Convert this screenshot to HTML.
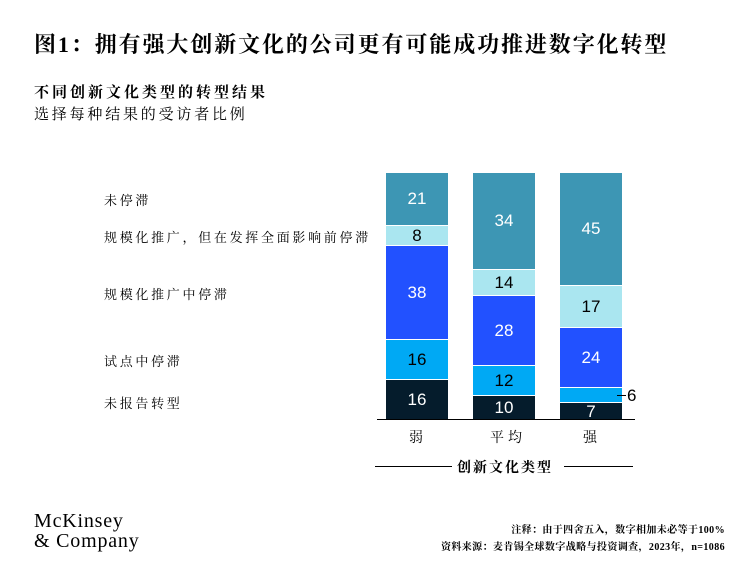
<!DOCTYPE html><html><head><meta charset="utf-8"><style>
body{margin:0;width:750px;height:573px;background:#fff;position:relative;overflow:hidden;font-family:"Liberation Serif","Noto Serif CJK SC",serif;color:#000}
.a{position:absolute;white-space:nowrap}
.l{font-size:13px;letter-spacing:2.7px}
.s{position:absolute;box-sizing:border-box;border-bottom:1px solid #fff;display:flex;align-items:center;justify-content:center;font-family:"Liberation Sans",sans-serif;font-size:17px}
.w{color:#fff}
</style></head><body>
<div class="a" style="left:34px;top:28px;font-size:22px;font-weight:bold;letter-spacing:1.9px">图1：拥有强大创新文化的公司更有可能成功推进数字化转型</div>
<div class="a" style="left:34px;top:81px;font-size:15px;font-weight:bold;letter-spacing:3px">不同创新文化类型的转型结果</div>
<div class="a" style="left:34px;top:103px;font-size:15px;letter-spacing:2.8px">选择每种结果的受访者比例</div>
<div class="a l" style="left:104px;top:190px">未停滞</div>
<div class="a l" style="left:104px;top:227px">规模化推广，但在发挥全面影响前停滞</div>
<div class="a l" style="left:104px;top:284px">规模化推广中停滞</div>
<div class="a l" style="left:104px;top:351px">试点中停滞</div>
<div class="a l" style="left:104px;top:393px">未报告转型</div>

<div class="s w" style="left:386px;top:173px;width:62px;height:53px;background:#3d96b4">21</div>
<div class="s" style="left:386px;top:226px;width:62px;height:20px;background:#aae6f0">8</div>
<div class="s w" style="left:386px;top:246px;width:62px;height:94px;background:#2251ff">38</div>
<div class="s" style="left:386px;top:340px;width:62px;height:40px;background:#00a9f4">16</div>
<div class="s w" style="left:386px;top:380px;width:62px;height:40px;background:#051c2c;border:0">16</div>

<div class="s w" style="left:473px;top:173px;width:62px;height:97px;background:#3d96b4">34</div>
<div class="s" style="left:473px;top:270px;width:62px;height:26px;background:#aae6f0">14</div>
<div class="s w" style="left:473px;top:296px;width:62px;height:70px;background:#2251ff">28</div>
<div class="s" style="left:473px;top:366px;width:62px;height:30px;background:#00a9f4">12</div>
<div class="s w" style="left:473px;top:396px;width:62px;height:24px;background:#051c2c;border:0">10</div>

<div class="s w" style="left:560px;top:173px;width:62px;height:113px;background:#3d96b4">45</div>
<div class="s" style="left:560px;top:286px;width:62px;height:42px;background:#aae6f0">17</div>
<div class="s w" style="left:560px;top:328px;width:62px;height:60px;background:#2251ff">24</div>
<div class="s" style="left:560px;top:388px;width:62px;height:15px;background:#00a9f4"></div>
<div class="s w" style="left:560px;top:403px;width:62px;height:17px;background:#051c2c;border:0">7</div>
<div class="a" style="left:617px;top:395px;width:9px;border-top:1px solid #000"></div>
<div class="a" style="left:627px;top:386px;font-family:'Liberation Sans',sans-serif;font-size:17px">6</div>

<div class="a" style="left:377px;top:419px;width:258px;border-top:1px solid #000"></div>
<div class="a" style="left:409px;top:427px;font-size:14px">弱</div>
<div class="a" style="left:490px;top:427px;font-size:14px;letter-spacing:4px">平均</div>
<div class="a" style="left:583px;top:427px;font-size:14px">强</div>
<div class="a" style="left:375px;top:466px;width:77px;border-top:1px solid #000"></div>
<div class="a" style="left:457px;top:457px;font-size:14px;font-weight:bold;letter-spacing:2px">创新文化类型</div>
<div class="a" style="left:564px;top:466px;width:69px;border-top:1px solid #000"></div>

<div class="a" style="left:34px;top:511px;font-size:20px;line-height:20px;letter-spacing:0.8px">McKinsey<br>&amp; Company</div>
<div class="a" style="right:25px;top:521px;font-size:10px;font-weight:bold;text-align:right;letter-spacing:0.4px">注释：由于四舍五入，数字相加未必等于100%</div>
<div class="a" style="right:25px;top:538px;font-size:10px;font-weight:bold;text-align:right;letter-spacing:0.4px">资料来源：麦肯锡全球数字战略与投资调查，2023年，n=1086</div>
</body></html>
